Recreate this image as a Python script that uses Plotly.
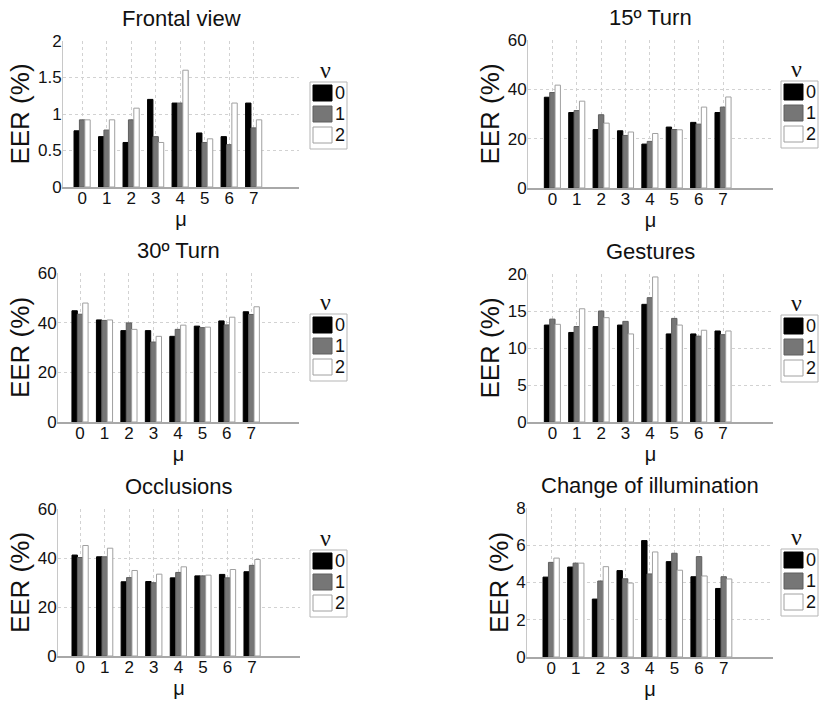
import plotly.graph_objects as go

# ---------------- data ----------------
mu = [0, 1, 2, 3, 4, 5, 6, 7]
mu_labels = ["0", "1", "2", "3", "4", "5", "6", "7"]
nu_labels = ["0", "1", "2"]

panel_titles = ["Frontal view", "15º Turn", "30º Turn", "Gestures",
                "Occlusions", "Change of illumination"]

frontal_nu0 = [0.77, 0.69, 0.61, 1.20, 1.15, 0.74, 0.69, 1.15]
frontal_nu1 = [0.92, 0.78, 0.92, 0.69, 1.15, 0.61, 0.58, 0.81]
frontal_nu2 = [0.92, 0.92, 1.08, 0.61, 1.60, 0.66, 1.15, 0.92]

turn15_nu0 = [36.8, 30.6, 23.7, 23.2, 17.8, 24.7, 26.6, 30.6]
turn15_nu1 = [38.7, 31.4, 29.7, 21.3, 18.9, 23.7, 25.9, 32.8]
turn15_nu2 = [41.7, 35.2, 26.3, 22.7, 22.1, 23.6, 32.8, 36.9]

turn30_nu0 = [44.8, 41.1, 36.8, 36.8, 34.5, 38.6, 40.7, 44.4]
turn30_nu1 = [43.4, 40.9, 39.9, 32.2, 37.3, 38.0, 39.1, 43.3]
turn30_nu2 = [47.9, 41.1, 37.3, 34.5, 39.0, 38.2, 42.2, 46.4]

gestures_nu0 = [13.1, 12.1, 12.9, 13.1, 15.9, 11.9, 11.9, 12.3]
gestures_nu1 = [13.9, 12.9, 15.0, 13.6, 16.8, 14.0, 11.6, 11.8]
gestures_nu2 = [13.2, 15.3, 14.1, 11.9, 19.6, 13.1, 12.4, 12.3]

occlusions_nu0 = [41.2, 40.5, 30.3, 30.4, 31.9, 32.7, 33.3, 34.4]
occlusions_nu1 = [40.2, 40.5, 32.0, 29.9, 34.1, 32.7, 31.9, 37.0]
occlusions_nu2 = [45.1, 44.0, 34.9, 33.4, 36.4, 33.0, 35.3, 39.4]

illum_nu0 = [4.29, 4.83, 3.11, 4.64, 6.25, 5.12, 4.31, 3.68]
illum_nu1 = [5.08, 5.04, 4.08, 4.20, 4.46, 5.57, 5.39, 4.31]
illum_nu2 = [5.31, 5.04, 4.85, 3.97, 5.64, 4.66, 4.35, 4.19]

y_max = [2, 60, 60, 20, 60, 8]
y_step = [0.5, 20, 20, 5, 20, 2]

series = [
    [frontal_nu0, frontal_nu1, frontal_nu2],
    [turn15_nu0, turn15_nu1, turn15_nu2],
    [turn30_nu0, turn30_nu1, turn30_nu2],
    [gestures_nu0, gestures_nu1, gestures_nu2],
    [occlusions_nu0, occlusions_nu1, occlusions_nu2],
    [illum_nu0, illum_nu1, illum_nu2],
]

# ---------------- style / layout ----------------
W, H = 819, 702
FONT = "Liberation Sans, Arial, sans-serif"
fill_colors = ["#000000", "#767676", "#ffffff"]
edge_colors = ["#000000", "#5e5e5e", "#a0a0a0"]
# axes boxes in pixels (left, right, top, bottom) and x ranges per panel
axes_px = [(63, 299, 41, 187), (528, 773, 40, 188),
           (58, 299, 273, 422), (528, 773, 274, 422),
           (58, 300, 509, 656), (527, 773, 508, 657)]
x_ranges = [[-0.78, 8.85], [-1.0, 9.05],
            [-0.9, 8.95], [-1.0, 9.05],
            [-0.9, 8.95], [-0.98, 9.0]]
legend_left_px = [310, 781]


def px_x(x):
    return x / W


def px_y(y):
    return 1 - y / H


fig = go.Figure()
layout = dict(
    width=W, height=H,
    margin=dict(l=0, r=0, t=0, b=0, autoexpand=False),
    paper_bgcolor="white", plot_bgcolor="white",
    barmode="group", bargap=0.34, bargroupgap=0.0,
    showlegend=False,
    font=dict(family=FONT, color="#111111"),
)
annotations = []
shapes = []

for i, (title, data) in enumerate(zip(panel_titles, series)):
    c = i % 2
    suffix = "" if i == 0 else str(i + 1)
    xa, ya = "x" + suffix, "y" + suffix
    for j, vals in enumerate(data):
        fig.add_trace(go.Bar(
            x=mu, y=vals, xaxis=xa, yaxis=ya,
            name="ν = " + nu_labels[j],
            marker=dict(color=fill_colors[j],
                        line=dict(color=edge_colors[j], width=1)),
            showlegend=False,
        ))
    x0, x1, yt, yb = axes_px[i]
    layout["xaxis" + suffix] = dict(
        domain=[px_x(x0), px_x(x1)], anchor=ya, automargin=False,
        range=x_ranges[i], tickvals=mu, ticktext=mu_labels,
        showgrid=True, gridcolor="#d2d2d2", griddash="dot", gridwidth=1,
        showline=True, linecolor="#a8a8a8", linewidth=1.5,
        zeroline=False, ticks="", ticklabelstandoff=-5,
        tickfont=dict(size=17, family=FONT),
        title=dict(text="μ", font=dict(size=20, family=FONT), standoff=0),
        fixedrange=True,
    )
    layout["yaxis" + suffix] = dict(
        domain=[px_y(yb), px_y(yt)], anchor=xa, automargin=False,
        range=[0, y_max[i]], dtick=y_step[i], tick0=0,
        showgrid=True, gridcolor="#d2d2d2", griddash="dot", gridwidth=1,
        showline=True, linecolor="#c8c8c8", linewidth=1,
        zeroline=False, ticks="", ticklabelstandoff=-3,
        tickfont=dict(size=17, family=FONT),
        title=dict(text="EER (%)", font=dict(size=26, family=FONT), standoff=0),
        fixedrange=True,
    )
    # panel title
    annotations.append(dict(
        text=title, xref="paper", yref="paper",
        x=px_x((x0 + x1) / 2), y=px_y(yt), xanchor="center", yanchor="bottom",
        yshift=8, showarrow=False, font=dict(size=22, family=FONT, color="#111"),
    ))
    # ν legend beside each panel
    lx = legend_left_px[c]
    ly = yt + 41
    bw, bh = 37, 67
    shapes.append(dict(type="rect", xref="paper", yref="paper",
                       x0=px_x(lx), x1=px_x(lx + bw), y0=px_y(ly + bh), y1=px_y(ly),
                       line=dict(color="#b5b5b5", width=1), fillcolor="white"))
    for j, lab in enumerate(nu_labels):
        sy = ly + 3 + j * 21
        shapes.append(dict(type="rect", xref="paper", yref="paper",
                           x0=px_x(lx + 3), x1=px_x(lx + 22),
                           y0=px_y(sy + 16), y1=px_y(sy),
                           line=dict(color=edge_colors[j], width=1),
                           fillcolor=fill_colors[j]))
        annotations.append(dict(
            text=lab, xref="paper", yref="paper",
            x=px_x(lx + 23), y=px_y(sy + 8), xanchor="left", yanchor="middle",
            showarrow=False, font=dict(size=18, family=FONT, color="#111"),
        ))
    annotations.append(dict(
        text="ν", xref="paper", yref="paper",
        x=px_x(lx + bw / 2 - 3), y=px_y(ly - 12), xanchor="center", yanchor="middle",
        showarrow=False, font=dict(size=24, family="Liberation Serif, serif", color="#111"),
    ))

layout["annotations"] = annotations
layout["shapes"] = shapes
fig.update_layout(**layout)
fig.write_html("out.html")
